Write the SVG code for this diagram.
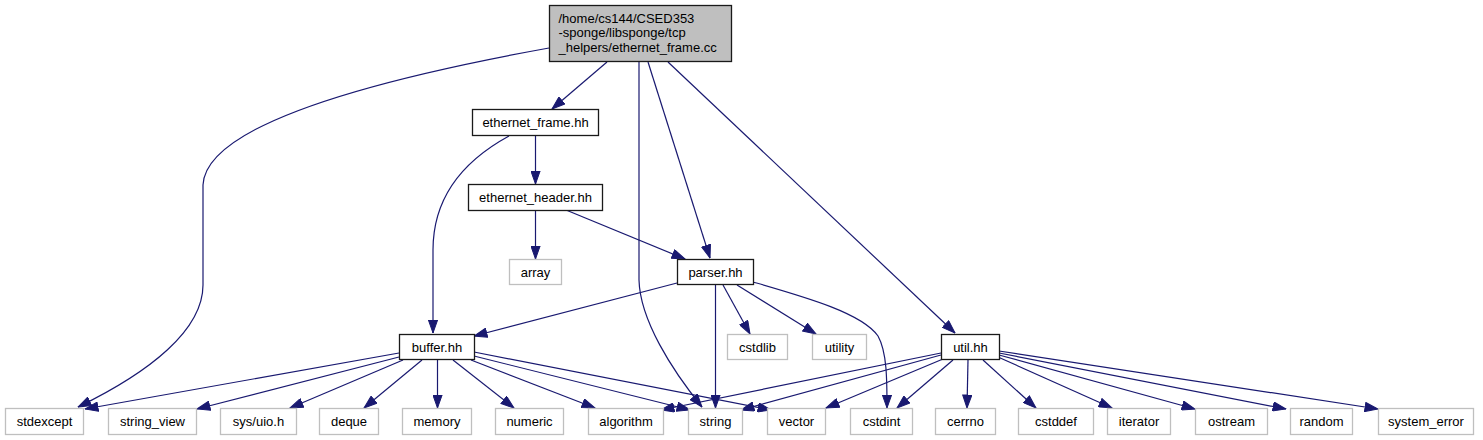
<svg xmlns="http://www.w3.org/2000/svg" width="1483" height="440" viewBox="0 0 1483 440">
<style>
text{font-family:"Liberation Sans",Arial,sans-serif;font-size:13px;fill:#000}
.c{text-anchor:middle}
.n rect{fill:#fff;stroke:#1a1a1a;stroke-width:1.3}
.l rect{fill:#fff;stroke:#bfbfbf;stroke-width:1.3}
#edges path{fill:none;stroke:#191970;stroke-width:1.2;marker-end:url(#ah)}
</style>
<defs>
<marker id="ah" markerUnits="userSpaceOnUse" markerWidth="14" markerHeight="10" viewBox="0 0 13 10" refX="13" refY="5" orient="auto">
<path d="M0,0.4 L13,5 L0,9.6 z" fill="#191970" stroke="#191970" stroke-width="1"/>
</marker>
</defs>
<rect width="1483" height="440" fill="#fff"/>
<g id="edges">
<path d="M549,48 C400,75 206,120 203,185 L203,285 C203,330 150,372 78,407"/>
<path d="M607,62 L552,109"/>
<path d="M639,62 L639,280 C640,320 672,370 702,407"/>
<path d="M648,62 L710,258"/>
<path d="M668,62 L955,333"/>
<path d="M509,136 C465,160 433,195 433,250 L433,333"/>
<path d="M535.5,136 L535.5,184"/>
<path d="M535.5,210 L535.5,259"/>
<path d="M566,210 L685,259"/>
<path d="M677,283 L474,336"/>
<path d="M715.5,285 L715.5,408"/>
<path d="M723,285 L750,334"/>
<path d="M737,285 L816,334"/>
<path d="M753,282 C805,297 862,313 878,336 C887,352 887,380 887,408"/>
<path d="M399,353 L85,409"/>
<path d="M399,357 L197,409"/>
<path d="M403,360 L290,408"/>
<path d="M422,360 L364,408"/>
<path d="M437.5,360 L437.5,408"/>
<path d="M453,360 L514,408"/>
<path d="M471,360 L595,408"/>
<path d="M474,356 L690,410"/>
<path d="M474,352 L771,410"/>
<path d="M941,353 L661,410"/>
<path d="M941,355 L741,410"/>
<path d="M943,359 L826,408"/>
<path d="M953,360 L897,408"/>
<path d="M968,360 L967,408"/>
<path d="M983,360 L1036,408"/>
<path d="M998,357 L1112,408"/>
<path d="M999,355 L1195,409"/>
<path d="M999,353 L1286,409"/>
<path d="M999,351 L1378,409"/>
</g>
<g id="node_top"><rect x="549.5" y="5.5" width="182" height="56" fill="#bfbfbf" stroke="#1a1a1a" stroke-width="1.3"/>
<text x="558.5" y="22.5">/home/cs144/CSED353</text>
<text x="558.5" y="37">-sponge/libsponge/tcp</text>
<text x="558.5" y="51.5">_helpers/ethernet_frame.cc</text></g>
<g id="node_ethernet_frame" class="n"><rect x="472.5" y="109.5" width="126" height="26"/><text class="c" x="535.5" y="127">ethernet_frame.hh</text></g>
<g id="node_ethernet_header" class="n"><rect x="468.5" y="184.5" width="134" height="26"/><text class="c" x="535.5" y="202">ethernet_header.hh</text></g>
<g id="node_array" class="l"><rect x="509.5" y="259.5" width="52" height="25"/><text class="c" x="535.5" y="276.5">array</text></g>
<g id="node_parser" class="n"><rect x="677.5" y="259.5" width="76" height="25"/><text class="c" x="715.5" y="276.5">parser.hh</text></g>
<g id="node_buffer" class="n"><rect x="399.5" y="334.5" width="75" height="25"/><text class="c" x="437" y="351.5">buffer.hh</text></g>
<g id="node_cstdlib" class="l"><rect x="727.5" y="334.5" width="60" height="25"/><text class="c" x="757.5" y="351.5">cstdlib</text></g>
<g id="node_utility" class="l"><rect x="812.5" y="334.5" width="54" height="25"/><text class="c" x="839.5" y="351.5">utility</text></g>
<g id="node_util" class="n"><rect x="941.5" y="334.5" width="58" height="25"/><text class="c" x="970.5" y="351.5">util.hh</text></g>
<g id="node_stdexcept" class="l"><rect x="5.5" y="408.5" width="78" height="26"/><text class="c" x="44.5" y="426">stdexcept</text></g>
<g id="node_string_view" class="l"><rect x="108.5" y="408.5" width="88" height="26"/><text class="c" x="152.5" y="426">string_view</text></g>
<g id="node_sys_uio" class="l"><rect x="220.5" y="408.5" width="76" height="26"/><text class="c" x="258.5" y="426">sys/uio.h</text></g>
<g id="node_deque" class="l"><rect x="319.5" y="408.5" width="59" height="26"/><text class="c" x="349" y="426">deque</text></g>
<g id="node_memory" class="l"><rect x="402.5" y="408.5" width="69" height="26"/><text class="c" x="437" y="426">memory</text></g>
<g id="node_numeric" class="l"><rect x="495.5" y="408.5" width="68" height="26"/><text class="c" x="529.5" y="426">numeric</text></g>
<g id="node_algorithm" class="l"><rect x="588.5" y="408.5" width="75" height="26"/><text class="c" x="626" y="426">algorithm</text></g>
<g id="node_string" class="l"><rect x="688.5" y="408.5" width="54" height="26"/><text class="c" x="715.5" y="426">string</text></g>
<g id="node_vector" class="l"><rect x="767.5" y="408.5" width="58" height="26"/><text class="c" x="796.5" y="426">vector</text></g>
<g id="node_cstdint" class="l"><rect x="850.5" y="408.5" width="62" height="26"/><text class="c" x="881.5" y="426">cstdint</text></g>
<g id="node_cerrno" class="l"><rect x="935.5" y="408.5" width="60" height="26"/><text class="c" x="965.5" y="426">cerrno</text></g>
<g id="node_cstddef" class="l"><rect x="1018.5" y="408.5" width="75" height="26"/><text class="c" x="1056" y="426">cstddef</text></g>
<g id="node_iterator" class="l"><rect x="1107.5" y="408.5" width="63" height="26"/><text class="c" x="1139" y="426">iterator</text></g>
<g id="node_ostream" class="l"><rect x="1195.5" y="408.5" width="72" height="26"/><text class="c" x="1231.5" y="426">ostream</text></g>
<g id="node_random" class="l"><rect x="1290.5" y="408.5" width="62" height="26"/><text class="c" x="1321.5" y="426">random</text></g>
<g id="node_system_error" class="l"><rect x="1378.5" y="408.5" width="95" height="26"/><text class="c" x="1426" y="426">system_error</text></g>
</svg>
